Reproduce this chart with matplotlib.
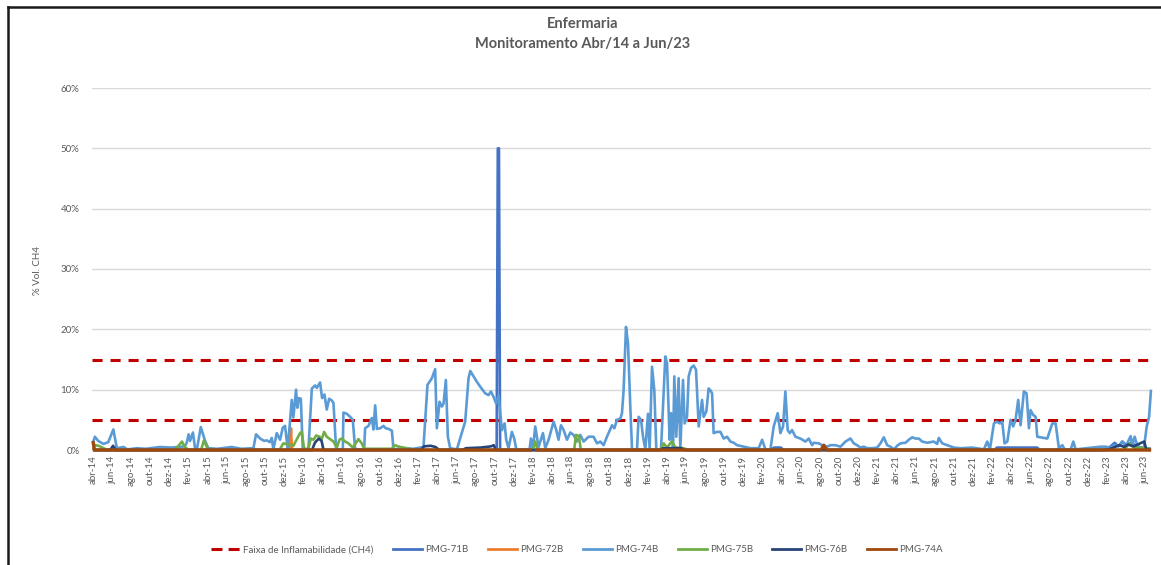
import numpy as np
import matplotlib.pyplot as plt
from matplotlib.lines import Line2D

# x = meses a partir de abr/14, y = % vol. CH4
faixa = [5, 15]

pmg71b = [(0.0, 0.0), (42.2, 0.0), (42.32, 50.0), (42.44, 50.0), (42.56, 0.0),
          (70.8, 0.0), (71.2, 0.4), (71.9, 0.4), (72.2, 0.0), (94.2, 0.0), (94.5, 0.4),
          (98.7, 0.4), (99.0, 0.0), (105.5, 0.0), (106.3, 0.5), (106.8, 1.2), (107.2, 0.6),
          (107.6, 1.4), (108.1, 0.7), (108.6, 1.3), (109.0, 0.5), (110.6, 0.2)]

pmg72b = [(0.0, 0.0), (20.6, 0.0), (20.7, 3.6), (20.8, 0.0), (110.6, 0.0)]

pmg74b = [(0.0, 1.2), (0.2, 2.2), (0.55, 1.5), (1.1, 1.0), (1.6, 1.3), (2.13, 3.4), (2.5, 0.3),
          (3.2, 0.5), (3.6, 0.1), (4.6, 0.3), (5.5, 0.2), (7.0, 0.5), (8.2, 0.4), (9.6, 0.6),
          (9.8, 1.2), (10.0, 2.6), (10.15, 1.5), (10.45, 2.9), (10.67, 0.3), (10.9, 0.4),
          (11.27, 3.8), (11.7, 1.6), (12.06, 0.3), (13.0, 0.2), (14.5, 0.5), (15.5, 0.2),
          (16.77, 0.3), (17.05, 2.6), (17.47, 1.9), (17.9, 1.5), (18.17, 1.6), (18.5, 1.3),
          (18.69, 2.0), (18.86, 0.1), (19.21, 2.8), (19.56, 1.7), (19.84, 3.7), (20.08, 4.0),
          (20.36, 0.1), (20.78, 8.3), (20.95, 5.4), (21.23, 10.0), (21.37, 7.0), (21.52, 8.6),
          (21.73, 8.5), (21.93, 0.1), (22.52, 0.1), (22.88, 10.2), (23.22, 10.7), (23.4, 10.3),
          (23.74, 11.2), (23.95, 8.6), (24.2, 9.2), (24.44, 6.7), (24.69, 8.5), (24.97, 8.2),
          (25.14, 7.8), (25.42, 0.1), (26.12, 0.1), (26.18, 6.2), (26.54, 6.0), (26.88, 5.5),
          (27.16, 5.0), (27.41, 0.1), (28.35, 0.1), (28.45, 3.6), (28.8, 4.0), (29.15, 5.3),
          (29.32, 3.4), (29.5, 7.4), (29.68, 3.5), (30.02, 3.6), (30.37, 4.0), (30.6, 3.6),
          (30.89, 3.5), (31.25, 3.2), (31.41, 0.1), (32.5, 0.3), (33.5, 0.2), (34.55, 0.5),
          (34.97, 10.8), (35.43, 11.9), (35.77, 13.4), (35.95, 3.6), (36.23, 8.0), (36.47, 7.2),
          (36.65, 7.7), (36.89, 11.6), (37.1, 2.2), (37.34, 0.3), (38.04, 0.1), (38.91, 4.7),
          (39.26, 11.9), (39.44, 13.1), (39.78, 12.2), (40.13, 11.3), (40.48, 10.5), (41.0, 9.4),
          (41.35, 9.1), (41.6, 9.7), (41.88, 8.8), (42.15, 7.7), (42.4, 9.0), (42.75, 3.3),
          (43.03, 4.4), (43.2, 1.7), (43.44, 0.3), (43.79, 3.0), (44.04, 1.9), (44.25, 0.1),
          (45.64, 0.1), (45.78, 1.9), (45.99, 0.1), (46.23, 3.9), (46.58, 0.5), (47.04, 2.8),
          (47.28, 0.3), (47.63, 1.7), (48.15, 4.7), (48.43, 3.3), (48.67, 1.7), (48.92, 4.1),
          (49.2, 3.3), (49.55, 1.7), (49.9, 2.9), (50.24, 2.5), (50.6, 1.4), (50.94, 2.5),
          (51.29, 1.4), (51.81, 2.2), (52.33, 2.2), (52.69, 1.1), (53.03, 1.4), (53.38, 0.8),
          (53.73, 2.2), (54.26, 4.1), (54.5, 3.6), (54.78, 5.0), (55.13, 5.2), (55.3, 6.1),
          (55.47, 9.9), (55.72, 20.4), (55.93, 17.7), (56.17, 7.2), (56.35, 0.1), (56.87, 0.1),
          (57.04, 5.5), (57.29, 5.0), (57.5, 2.2), (57.74, 0.1), (58.02, 6.0), (58.19, 0.1),
          (58.44, 13.8), (58.68, 9.9), (58.89, 0.1), (59.38, 0.1), (59.83, 15.5), (60.01, 14.4),
          (60.28, 1.7), (60.43, 6.1), (60.64, 0.1), (60.77, 12.2), (60.98, 2.2), (61.22, 11.9),
          (61.4, 0.1), (61.68, 11.6), (61.85, 4.4), (62.1, 5.5), (62.27, 12.2), (62.52, 13.6),
          (62.79, 14.0), (63.04, 13.3), (63.32, 3.9), (63.67, 8.3), (63.84, 5.5), (64.12, 6.4),
          (64.36, 10.2), (64.54, 9.9), (64.72, 9.4), (64.88, 2.8), (65.24, 3.0), (65.59, 3.0),
          (65.93, 1.9), (66.29, 2.2), (66.63, 1.4), (66.98, 1.2), (67.33, 0.8), (68.02, 0.55),
          (68.72, 0.3), (69.59, 0.3), (69.95, 1.7), (70.29, 0.1), (70.82, 0.1), (71.16, 3.9),
          (71.58, 6.1), (71.86, 2.8), (72.14, 3.9), (72.38, 9.7), (72.62, 3.3), (72.84, 2.8),
          (73.08, 3.3), (73.43, 2.2), (73.95, 1.9), (74.48, 1.4), (74.82, 1.9), (75.18, 0.8),
          (75.35, 1.2), (75.87, 1.1), (76.22, 0.8), (76.75, 0.55), (77.09, 0.8), (77.62, 0.8),
          (78.14, 0.55), (78.66, 1.4), (79.18, 1.9), (79.53, 1.1), (79.88, 0.8), (80.23, 0.4),
          (80.58, 0.55), (80.93, 0.3), (81.45, 0.3), (81.98, 0.4), (82.32, 1.1), (82.67, 2.1),
          (83.02, 0.8), (83.37, 0.55), (83.72, 0.1), (84.07, 0.7), (84.41, 1.1), (84.94, 1.2),
          (85.28, 1.7), (85.64, 2.1), (85.98, 1.9), (86.33, 1.9), (86.68, 1.4), (87.21, 1.2),
          (87.9, 1.4), (88.25, 1.0), (88.42, 2.0), (88.78, 1.1), (89.3, 0.8), (89.99, 0.4),
          (90.69, 0.3), (91.91, 0.4), (92.78, 0.2), (93.13, 0.1), (93.48, 1.4), (93.76, 0.1),
          (94.18, 4.4), (94.46, 4.7), (94.81, 4.4), (95.05, 4.7), (95.29, 1.1), (95.58, 1.4),
          (95.92, 5.0), (96.2, 3.9), (96.44, 5.0), (96.72, 8.3), (96.97, 4.1), (97.31, 9.7),
          (97.59, 9.4), (97.84, 3.6), (98.01, 6.6), (98.29, 5.8), (98.54, 5.5), (98.71, 2.2),
          (99.76, 1.9), (100.28, 4.4), (100.63, 4.4), (100.97, 0.3), (101.33, 0.8), (101.57, 0.1),
          (102.2, 0.1), (102.48, 1.4), (102.72, 0.1), (105.33, 0.55), (105.86, 0.55),
          (106.38, 0.4), (106.73, 0.8), (107.25, 0.7), (107.6, 1.4), (107.95, 0.55), (108.47, 2.3),
          (108.65, 0.8), (108.89, 2.2), (109.17, 0.7), (109.52, 0.4), (109.86, 0.3), (110.15, 3.9),
          (110.4, 5.5), (110.6, 10.0)]

pmg75b = [(0.0, 0.0), (0.2, 0.8), (0.6, 0.7), (1.1, 0.3), (1.5, 0.0), (8.6, 0.0), (9.0, 0.8),
          (9.3, 1.4), (9.6, 0.5), (10.0, 0.0), (11.3, 0.0), (11.6, 1.6), (11.9, 0.5), (12.2, 0.0),
          (19.5, 0.0), (19.9, 1.1), (20.95, 0.7), (21.65, 2.8), (21.83, 3.0), (22.07, 0.2),
          (22.52, 0.2), (22.77, 1.9), (23.05, 1.7), (23.33, 2.4), (23.68, 2.2), (23.92, 1.8),
          (24.16, 3.0), (24.44, 2.2), (24.79, 1.8), (25.14, 1.4), (25.49, 0.4), (25.77, 1.7),
          (26.01, 1.9), (26.36, 1.4), (26.71, 1.1), (27.16, 0.4), (27.75, 1.8), (28.1, 1.1),
          (28.35, 0.2), (31.25, 0.2), (31.52, 0.8), (32.11, 0.5), (32.81, 0.3), (33.5, 0.0),
          (45.99, 0.0), (46.23, 1.4), (46.5, 0.0), (50.3, 0.0), (50.5, 2.5), (50.8, 2.3),
          (51.0, 0.0), (59.3, 0.0), (59.66, 1.1), (60.0, 0.4), (60.5, 1.4), (60.9, 0.4),
          (61.7, 0.3), (62.3, 0.0), (107.8, 0.0), (108.3, 1.1), (108.8, 0.4), (110.2, 0.3),
          (110.6, 0.0)]

pmg76b = [(0.0, 0.0), (1.8, 0.0), (2.1, 0.7), (2.4, 0.0), (22.9, 0.0), (23.2, 1.2), (23.6, 1.9),
          (23.9, 1.5), (24.1, 0.0), (34.3, 0.0), (34.6, 0.6), (35.3, 0.7), (35.8, 0.5), (36.2, 0.0),
          (38.6, 0.0), (39.0, 0.3), (40.5, 0.4), (41.6, 0.6), (41.9, 0.8), (42.1, 0.0), (59.3, 0.0),
          (59.6, 0.3), (61.5, 0.3), (61.8, 0.0), (106.0, 0.0), (106.5, 0.3), (107.3, 0.8),
          (107.8, 0.5), (108.2, 0.9), (108.8, 0.6), (109.2, 0.9), (109.6, 1.2), (109.9, 1.4),
          (110.1, 0.1), (110.6, 0.0)]

pmg74a = [(0.0, 1.5), (0.15, 0.0), (45.9, 0.0), (46.05, np.nan), (46.2, 0.0), (76.1, 0.0),
          (76.4, 0.8), (76.7, 0.0), (110.6, 0.0)]

series = [('PMG-71B', pmg71b, '#4472C4'), ('PMG-72B', pmg72b, '#ED7D31'),
          ('PMG-74B', pmg74b, '#5B9BD5'), ('PMG-75B', pmg75b, '#70AD47'),
          ('PMG-76B', pmg76b, '#264478'), ('PMG-74A', pmg74a, '#9E480E')]

meses_nome = ['jan', 'fev', 'mar', 'abr', 'mai', 'jun', 'jul', 'ago', 'set', 'out', 'nov', 'dez']
ticks = list(range(0, 111, 2))
rotulos = [f'{meses_nome[(3 + k) % 12]}-{14 + (3 + k) // 12}' for k in ticks]

cinza = '#595959'
plt.rcParams['font.family'] = ['Lato', 'DejaVu Sans']

W, H = 1161, 565
fig = plt.figure(figsize=(W / 100, H / 100), dpi=100)
ax = fig.add_axes([92 / W, 115 / H, 1059 / W, 362 / H])

for y in faixa:
    ax.axhline(y, color='#C00000', lw=2.2, linestyle=(0, (3.3, 2.6)), zorder=2)

for nome, dados, cor in series:
    x, y = np.array(dados).T
    lw = 2.4 if nome == 'PMG-74A' else 1.9
    ax.plot(x, y, color=cor, lw=lw, label=nome, zorder=3, clip_on=False,
            solid_capstyle='butt')

ax.set_xlim(-0.1, 110.6)
ax.set_ylim(0, 60)
ax.set_yticks(range(0, 61, 10))
ax.set_yticklabels([f'{v}%' for v in range(0, 61, 10)])
ax.set_xticks(ticks)
ax.set_xticklabels(rotulos, rotation=90)
ax.tick_params(length=0, labelsize=7, colors=cinza)
ax.tick_params(axis='y', pad=9)
ax.tick_params(axis='x', pad=4)
ax.grid(axis='y', color='#D9D9D9', lw=1)
ax.set_axisbelow(True)
for s in ['top', 'right', 'left']:
    ax.spines[s].set_visible(False)
ax.spines['bottom'].set_color('#D9D9D9')

fig.text(583 / W, 1 - 24 / H, 'Enfermaria', ha='center', va='center',
         fontsize=10.5, fontweight='bold', color=cinza)
fig.text(583 / W, 1 - 44 / H, 'Monitoramento Abr/14 a Jun/23', ha='center', va='center',
         fontsize=10.5, fontweight='bold', color=cinza)
fig.text(38 / W, 1 - 270 / H, '% Vol. CH4', rotation=90, ha='center', va='center',
         fontsize=7, color=cinza)

handles = [Line2D([], [], color='#C00000', lw=2.2, linestyle=(0, (3.6, 2.0)))]
labels = ['Faixa de Inflamabilidade (CH4)']
for nome, dados, cor in series:
    handles.append(Line2D([], [], color=cor, lw=2.0))
    labels.append(nome)
fig.legend(handles, labels, loc='center', bbox_to_anchor=(577 / W, 15 / H), ncol=7,
           frameon=False, fontsize=7, handlelength=3.0, columnspacing=2.0,
           handletextpad=0.3, labelcolor=cinza)

# moldura
fig.add_artist(Line2D([8 / W, 8 / W], [0, 1 - 7 / H], color='#1a1a1a', lw=1.8,
                      transform=fig.transFigure))
fig.add_artist(Line2D([8 / W, 1], [1 - 7 / H, 1 - 7 / H], color='#1a1a1a', lw=1.8,
                      transform=fig.transFigure))

fig.savefig('out.png', dpi=100)
